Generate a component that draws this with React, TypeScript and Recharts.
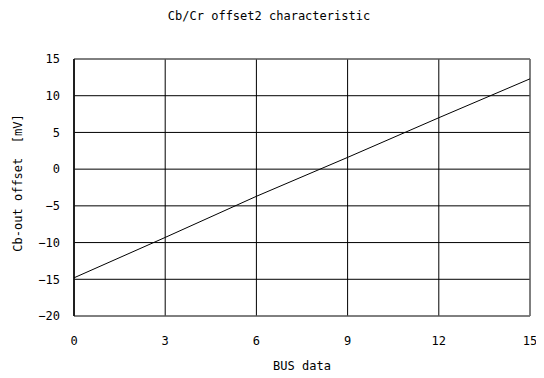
import { CartesianGrid, Line, LineChart, ReferenceArea, XAxis, YAxis } from "recharts";

// Offset read at each labelled BUS step
const busData = [0, 3, 6, 9, 12, 15];
const offsetMv = [-14.8, -9.3, -3.7, 1.6, 7.0, 12.3];

const xTicks = [0, 3, 6, 9, 12, 15];
const yTicks = [-20, -15, -10, -5, 0, 5, 10, 15];

const rows = busData.map((x, i) => ({ bus: x, offset: offsetMv[i] }));

const FONT = "'DejaVu Sans Mono', monospace";
const TICK = { fill: "#000", fontSize: 12, fontFamily: FONT };

// long minus like the original plotting tool
const fmt = (v: number) => String(v).replace("-", "\u2212");

const caption = {
  position: "absolute" as const,
  zIndex: 1,
  textAlign: "center" as const,
  fontSize: 12,
  lineHeight: "14px",
  whiteSpace: "pre" as const,
};

export default function App() {
  return (
    <div style={{ position: "relative", width: 536, height: 370, fontFamily: FONT, color: "#000" }}>
      <LineChart width={536} height={362} data={rows} margin={{ top: 51, right: 14, left: 0, bottom: 0 }}>
        <CartesianGrid stroke="#000" strokeWidth={1} />
        <XAxis
          type="number"
          dataKey="bus"
          domain={[0, 15]}
          ticks={xTicks}
          tick={TICK}
          tickLine={false}
          tickSize={18}
          axisLine={false}
          height={54}
        />
        <YAxis
          type="number"
          domain={[-20, 15]}
          ticks={yTicks}
          tickFormatter={fmt}
          tick={TICK}
          tickLine={false}
          tickSize={12}
          axisLine={false}
          width={66}
          interval={0}
        />
        <ReferenceArea x1={0} x2={15} y1={-20} y2={15} fill="none" stroke="#808080" strokeWidth={1} />
        <Line
          dataKey="offset"
          type="linear"
          stroke="#000"
          strokeWidth={1}
          dot={false}
          isAnimationActive={false}
        />
        <ReferenceArea x1={0} x2={0.0001} y1={-20} y2={15} fill="none" stroke="#000" strokeWidth={1} />
      </LineChart>
      <div style={{ ...caption, left: 0, width: 522, top: 1 }}>Cb/Cr offset2 characteristic</div>
      <div style={{ ...caption, left: 66, width: 456, top: 351 }}>BUS data</div>
      <div style={{ ...caption, left: -90, width: 200, top: 168, transform: "rotate(-90deg)" }}>
        {"Cb-out offset  [mV]"}
      </div>
    </div>
  );
}
